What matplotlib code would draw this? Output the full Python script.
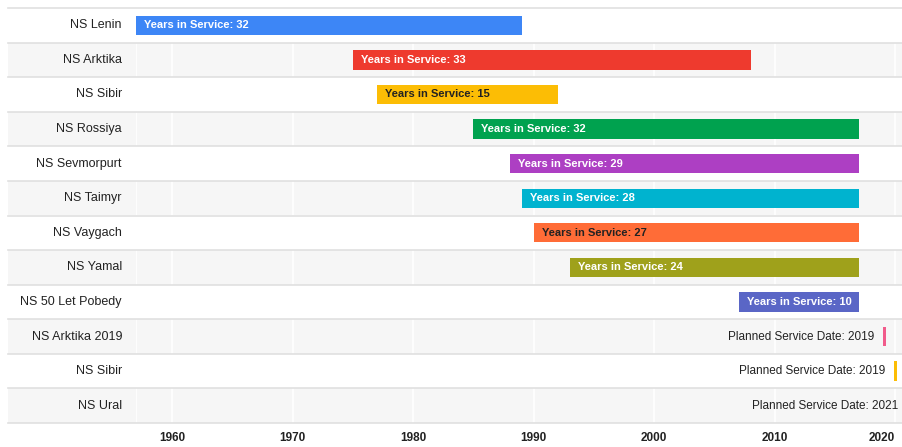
import matplotlib
matplotlib.use("Agg")
import matplotlib.pyplot as plt
from matplotlib.patches import Rectangle
from matplotlib.lines import Line2D
import matplotlib.transforms as mtransforms

plt.rcParams['font.family'] = ['Liberation Sans', 'DejaVu Sans']

ships = ["NS Lenin", "NS Arktika", "NS Sibir", "NS Rossiya", "NS Sevmorput",
         "NS Taimyr", "NS Vaygach", "NS Yamal", "NS 50 Let Pobedy",
         "NS Arktika 2019", "NS Sibir", "NS Ural"]
ships[4] = "NS Sevmorput".replace("put", "put")
ships[4] = "NS Sevmorpurt"
start = [1957, 1975, 1977, 1985, 1988, 1989, 1990, 1993, 2007, 2019.0, 2019.9, 2021.0]
end = [1989, 2008, 1992, 2017, 2017, 2017, 2017, 2017, 2017, 2019.25, 2020.15, 2021.25]
bar_labels = ["Years in Service: 32", "Years in Service: 33", "Years in Service: 15",
              "Years in Service: 32", "Years in Service: 29", "Years in Service: 28",
              "Years in Service: 27", "Years in Service: 24", "Years in Service: 10",
              "Planned Service Date: 2019", "Planned Service Date: 2019",
              "Planned Service Date: 2021"]
colors = ["#3d86f6", "#ee3a2e", "#fcbd05", "#00a24f", "#ad3fc3", "#00b3cf",
          "#ff6c37", "#9fa11b", "#5a66c6", "#f15b8b", "#fcbd05", "#00796b"]
text_colors = ["white", "white", "#222222", "white", "white", "white",
               "#222222", "white", "white", "#222222", "#222222", "#222222"]
inside = [True, True, True, True, True, True, True, True, True, False, False, False]
xticks = [1960, 1970, 1980, 1990, 2000, 2010, 2020]
x_min, x_max = 1957, 2020.65

W, H = 903, 447
fig = plt.figure(figsize=(W / 100, H / 100), dpi=100)
fig.patch.set_facecolor("white")
ax_left, ax_right, ax_top, ax_bot = 136, 903, 8, 423
ax = fig.add_axes([ax_left / W, (H - ax_bot) / H, (ax_right - ax_left) / W, (ax_bot - ax_top) / H])
ax.set_facecolor("none")
n = len(ships)
ax.set_xlim(x_min, x_max)
ax.set_ylim(n - 0.5, -0.5)

trans = mtransforms.blended_transform_factory(ax.transAxes, ax.transData)
lab_x0 = -(ax_left - 8) / (ax_right - ax_left)
for i in range(n):
    if i % 2 == 1:
        ax.add_patch(Rectangle((lab_x0, i - 0.5), 1 - lab_x0, 1, transform=trans,
                               facecolor="#f6f6f6", edgecolor="none", clip_on=False, zorder=0))
for i in range(n + 1):
    ax.add_line(Line2D([lab_x0, 1], [i - 0.5, i - 0.5], transform=trans, color="#e0e0e0",
                       lw=1.2, clip_on=False, zorder=1))

ax.vlines([x_min] + xticks, -0.5, n - 0.5, colors="white", lw=1.2, zorder=0.5)

rows = list(range(n))
widths = [e - s for s, e in zip(start, end)]
ax.barh(rows, widths, left=start, height=0.56, color=colors, zorder=2)

for i in range(n):
    if inside[i]:
        ax.annotate(bar_labels[i], xy=(start[i], i), xytext=(8, 0), textcoords="offset pixels",
                    ha="left", va="center", fontsize=8, fontweight="bold",
                    color=text_colors[i], zorder=3)
    else:
        ax.annotate(bar_labels[i], xy=(start[i], i), xytext=(-9, 0), textcoords="offset pixels",
                    ha="right", va="center", fontsize=8.5, color="#222222",
                    zorder=3, annotation_clip=False)
    ax.annotate(ships[i], xy=(0, i), xycoords=trans, xytext=(-14, 0), textcoords="offset pixels",
                ha="right", va="center", fontsize=9, color="#222222", annotation_clip=False)

ax.set_xticks(xticks)
ax.set_xticklabels([str(t) for t in xticks], fontsize=8.5, fontweight="bold", color="#222222")
ax.get_xticklabels()[-1].set_horizontalalignment("right")
ax.tick_params(axis="x", length=0, pad=6.5)
ax.set_yticks([])
for s in ax.spines.values():
    s.set_visible(False)

fig.savefig("out.png", dpi=100, facecolor="white")
